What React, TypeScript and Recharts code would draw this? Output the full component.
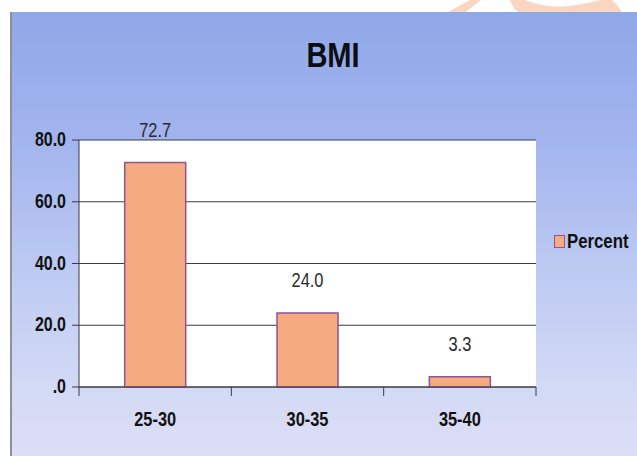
import React from "react";
import { BarChart, Bar, XAxis, YAxis, CartesianGrid, LabelList, Legend } from "recharts";

// BMI distribution (percent of respondents per band)
const categories = ["25-30", "30-35", "35-40"];
const percentValues = [72.7, 24.0, 3.3];
const yTicks = [0, 20, 40, 60, 80];
const seriesName = "Percent";

const data = categories.map((band, i) => ({ band, Percent: percentValues[i] }));

const W = 637;
const H = 456;
const MARGIN = { top: 140, right: 101, bottom: 29, left: 0 };
const Y_AXIS_W = 79;
const X_AXIS_H = 40;
const PLOT_W = W - MARGIN.left - MARGIN.right - Y_AXIS_W;

const FONT = "'Liberation Sans', Arial, Helvetica, sans-serif";
const NARROW = 0.82;
const BAR_FILL = "#F6AA80";
const BAR_STROKE = "#8E5590";
const LINE = "#3b3b46";

const fmtY = (v: number) => (v === 0 ? ".0" : v.toFixed(1));

function YTick(props: any) {
  const { x, y, payload } = props;
  return (
    <g transform={`translate(${x - 6},${y + 6}) scale(${NARROW},1)`}>
      <text x={0} y={0} textAnchor="end" fontFamily={FONT} fontWeight="bold" fontSize={19.5} fill="#111">
        {fmtY(payload.value)}
      </text>
    </g>
  );
}

function XTick(props: any) {
  const { x, y, payload, index } = props;
  const half = payload && typeof payload.offset === "number" && payload.offset > 0 ? payload.offset : PLOT_W / categories.length / 2;
  const last = index === categories.length - 1;
  return (
    <g>
      <line x1={x - half} x2={x - half} y1={y} y2={y + 9} stroke={LINE} strokeWidth={1} />
      {last && <line x1={x + half} x2={x + half} y1={y} y2={y + 9} stroke={LINE} strokeWidth={1} />}
      <g transform={`translate(${x},${y + 39}) scale(${NARROW},1)`}>
        <text x={0} y={0} textAnchor="middle" fontFamily={FONT} fontWeight="bold" fontSize={20} fill="#111">
          {payload.value}
        </text>
      </g>
    </g>
  );
}

function ValueLabel(props: any) {
  const { x, y, width, value } = props;
  const cx = Number(x) + Number(width) / 2;
  return (
    <g transform={`translate(${cx},${Number(y) - 26}) scale(0.8,1)`}>
      <text x={0} y={0} textAnchor="middle" fontFamily={FONT} fontSize={20.5} fill="#2a2a2a">
        {Number(value).toFixed(1)}
      </text>
    </g>
  );
}

function LegendContent() {
  return (
    <div style={{ display: "flex", alignItems: "center", fontFamily: FONT, whiteSpace: "nowrap" }}>
      <span
        style={{
          display: "inline-block",
          width: 9,
          height: 11,
          background: BAR_FILL,
          border: `1.5px solid ${BAR_STROKE}`,
          marginRight: 2,
        }}
      />
      <span
        style={{
          display: "inline-block",
          fontSize: 19.5,
          fontWeight: "bold",
          color: "#111",
          transform: `scaleX(0.86)`,
          transformOrigin: "left center",
        }}
      >
        {seriesName}
      </span>
    </div>
  );
}

export default function App() {
  return (
    <div style={{ position: "absolute", left: 0, top: 0, width: W, height: H, background: "#fff", overflow: "hidden" }}>
      {/* logo fragment peeking above the panel */}
      <svg width={W} height={H} style={{ position: "absolute", left: 0, top: 0 }}>
        <path d="M448,12 L466,12 L481,0 L470,0 Z" fill="#FAD6C0" />
        <path
          d="M510,0 C512,6 515,10 518,12 L622,12 C618,6 614,2 612,0 L600,0 C585,4 565,8 550,6 C540,5 530,2 525,0 Z"
          fill="#FAD6C0"
        />
      </svg>
      <div
        style={{
          position: "absolute",
          left: 10,
          top: 12,
          width: W - 10,
          height: H - 12,
          boxSizing: "border-box",
          borderLeft: "2px solid #8f8f97",
          background: "linear-gradient(to bottom, #8FA8E8 0%, #A2B4EE 28%, #BECBF2 60%, #D3DAF5 85%, #DCDEF5 100%)",
        }}
      />
      <div style={{ position: "absolute", left: 0, top: 0 }}>
        <BarChart width={W} height={H} data={data} margin={MARGIN} barCategoryGap="30%">
          <CartesianGrid vertical={false} stroke={LINE} strokeWidth={1} fill="#ffffff" />
          <XAxis
            dataKey="band"
            height={X_AXIS_H}
            axisLine={{ stroke: LINE }}
            tickLine={false}
            tickSize={0}
            tickMargin={0}
            interval={0}
            tick={(p: any) => <XTick {...p} />}
          />
          <YAxis
            width={Y_AXIS_W}
            domain={[0, 80]}
            ticks={yTicks}
            interval={0}
            axisLine={{ stroke: LINE }}
            tickLine={{ stroke: LINE }}
            tickSize={7}
            tickMargin={0}
            tick={(p: any) => <YTick {...p} />}
          />
          <Legend
            verticalAlign="middle"
            align="center"
            layout="horizontal"
            wrapperStyle={{ left: 554, top: 230, width: 90, height: 20 }}
            content={() => <LegendContent />}
          />
          <Bar dataKey="Percent" name={seriesName} fill={BAR_FILL} stroke={BAR_STROKE} strokeWidth={1.5} isAnimationActive={false}>
            <LabelList dataKey="Percent" content={(p: any) => <ValueLabel {...p} />} />
          </Bar>
        </BarChart>
      </div>
      <svg width={W} height={H} style={{ position: "absolute", left: 0, top: 0, pointerEvents: "none" }}>
        <g transform={`translate(333,67) scale(0.83,1)`}>
          <text x={0} y={0} textAnchor="middle" fontFamily={FONT} fontWeight="bold" fontSize={35} fill="#0d0d12">
            BMI
          </text>
        </g>
      </svg>
    </div>
  );
}
